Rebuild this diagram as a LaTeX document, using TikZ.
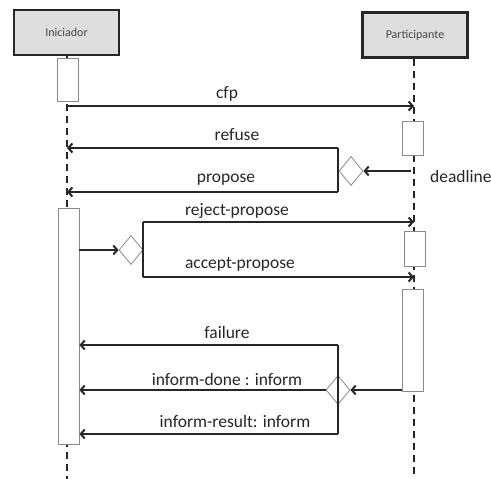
\documentclass[tikz,border=0pt]{standalone}
\usepackage{fontspec}
\setmainfont{Carlito}
\usetikzlibrary{arrows.meta,shapes.geometric}
\definecolor{ink}{HTML}{262626}
\definecolor{boxfill}{HTML}{DEDEDE}
\definecolor{edge}{HTML}{8A8A8A}
\begin{document}
\begin{tikzpicture}[x=1pt,y=-1pt,
  actor/.style={draw=ink, line width=2.2pt, fill=boxfill, minimum width=105pt,
    minimum height=45pt, inner sep=0pt, font=\fontsize{12}{14}\selectfont, text=ink!85},
  act/.style={draw=edge, line width=0.8pt, fill=white, minimum width=21pt, inner sep=0pt},
  choice/.style={diamond, draw=edge, line width=0.8pt, fill=white,
    minimum width=24pt, minimum height=29pt, inner sep=0pt},
  life/.style={draw=ink, line width=2pt, dash pattern=on 7pt off 5pt},
  msg/.style={draw=ink, line width=2pt, -{Straight Barb[length=4pt,width=9pt]}},
  bar/.style={draw=ink, line width=2pt},
  lbl/.style={font=\fontsize{17.5}{20}\selectfont, text=ink, inner sep=0pt}]
\useasboundingbox (0,0) rectangle (491,479);

% participants
\node[actor] (ini) at (66.5,32.5) {Iniciador};
\node[actor] (par) at (415,35) {Participante};

% lifelines
\coordinate (iniEnd) at (67,479);
\coordinate (parEnd) at (414,479);
\draw[life] (ini.south -| iniEnd) -- (iniEnd);
\draw[life] (par.south -| parEnd) -- (parEnd);

% activation bars
\node[act, minimum height=43pt]  (a0) at (67.5,79.5) {};
\node[act, minimum height=236pt] (a1) at (68.5,326) {};
\node[act, minimum height=34pt]  (p1) at (413,138) {};
\node[act, minimum height=35pt]  (p2) at (415,248.5) {};
\node[act, minimum height=102pt] (p3) at (413,340) {};

% decision points
\node[choice] (d1) at (351,171) {};
\node[choice] (d2) at (131,250) {};
\node[choice] (d3) at (338,390) {};

% cfp
\coordinate (cfpS) at (67,106);
\coordinate (cfpE) at (414,106);
\draw[msg] (cfpS) -- (cfpE);
\node[lbl] (lcfp) at (227,94) {cfp};

% deadline -> refuse / propose
\coordinate (dlS) at (411,171);
\draw[msg] (dlS) -- (d1.east);
\node[lbl, anchor=west] (ldl) at (430,176) {deadline};
\coordinate (b1t) at (338,148);
\coordinate (b1b) at (338,192);
\draw[bar] (b1t) -- (b1b);
\draw[msg] (b1t) -- (b1t -| iniEnd);
\draw[msg] (b1b) -- (b1b -| iniEnd);
\node[lbl] (lref) at (237,135) {refuse};
\node[lbl] (lpro) at (226,180) {propose};

% reject-propose / accept-propose
\draw[msg] (a1.east |- d2) -- (d2.west);
\coordinate (b2t) at (143,222);
\coordinate (b2b) at (143,277);
\draw[bar] (b2t) -- (b2b);
\draw[msg] (b2t) -- (b2t -| parEnd);
\draw[msg] (b2b) -- (b2b -| parEnd);
\node[lbl] (lrej) at (237,211) {reject-propose};
\node[lbl] (lacc) at (240,264) {accept-propose};

% failure / inform-done / inform-result
\draw[msg] (p3.west |- d3) -- (d3.east);
\coordinate (b3t) at (338,345);
\coordinate (b3b) at (338,434);
\draw[bar] (b3t) -- (b3b);
\draw[msg] (b3t) -- (b3t -| a1.east);
\draw[msg] (d3.west) -- (d3.west -| a1.east);
\draw[msg] (b3b) -- (b3b -| a1.east);
\node[lbl] (lfai) at (227,332) {failure};
\node[lbl] (ldon) at (227,379) {inform-done : inform};
\node[lbl] (lres) at (235,421) {inform-result: inform};
\end{tikzpicture}
\end{document}
